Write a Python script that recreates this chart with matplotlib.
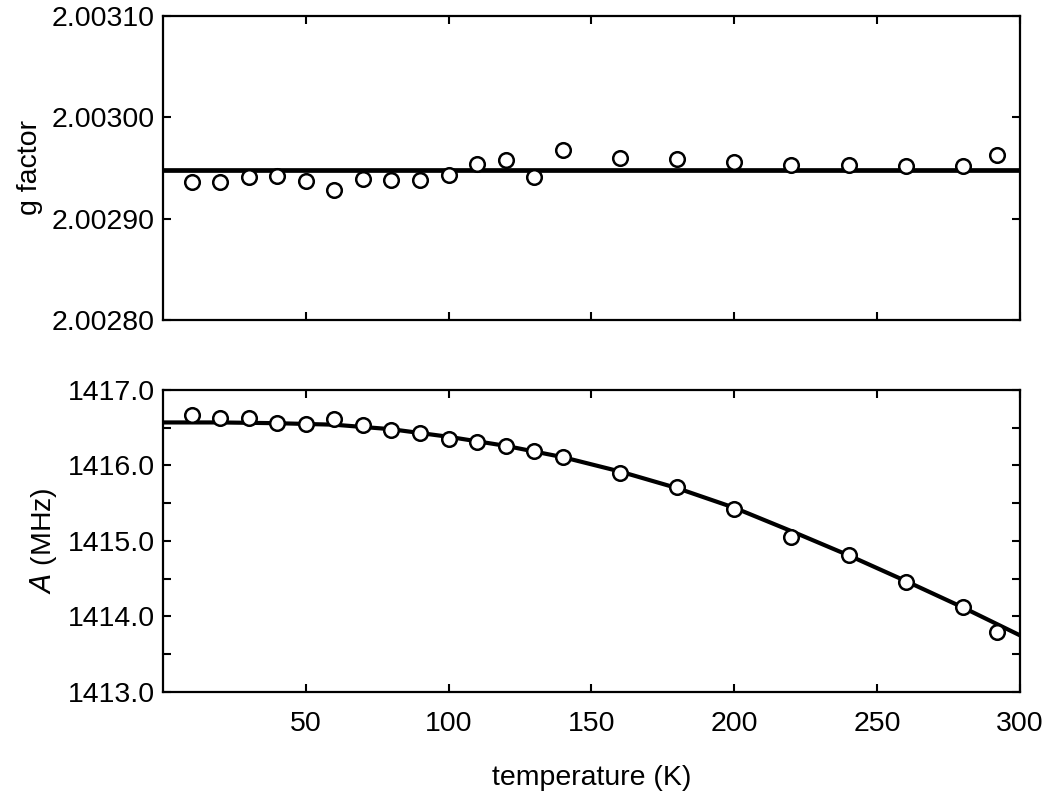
import matplotlib
matplotlib.use("Agg")
import matplotlib.pyplot as plt
from matplotlib.ticker import MultipleLocator, FormatStrFormatter

plt.rcParams['font.family'] = ['Liberation Sans', 'DejaVu Sans']

# temperature points (K)
temp = [10, 20, 30, 40, 50, 60, 70, 80, 90, 100, 110, 120, 130, 140,
        160, 180, 200, 220, 240, 260, 280, 292]

# g factor data
g_val = [2.0029362, 2.0029362, 2.0029411, 2.0029421, 2.0029372, 2.0029283,
         2.0029391, 2.0029382, 2.0029382, 2.0029431, 2.0029540, 2.0029579,
         2.0029411, 2.0029678, 2.0029599, 2.0029589, 2.0029560, 2.0029530,
         2.0029530, 2.0029520, 2.0029520, 2.0029628]
g_fit_t = [0, 300]
g_fit = [2.002948, 2.002948]

# hyperfine constant A (MHz)
a_val = [1416.67, 1416.63, 1416.63, 1416.56, 1416.55, 1416.62, 1416.54,
         1416.47, 1416.43, 1416.35, 1416.31, 1416.26, 1416.19, 1416.11,
         1415.90, 1415.72, 1415.42, 1415.05, 1414.81, 1414.46, 1414.13,
         1413.79]
a_fit_t = [0, 20, 40, 60, 80, 100, 120, 140, 160, 180, 200, 220, 240,
           260, 280, 300]
a_fit = [1416.57, 1416.57, 1416.56, 1416.54, 1416.48, 1416.38, 1416.26,
         1416.11, 1415.92, 1415.70, 1415.44, 1415.13, 1414.81, 1414.47,
         1414.12, 1413.75]

fig = plt.figure(figsize=(10.5, 7.92), dpi=100)
ax1 = fig.add_axes([0.1552, 0.5960, 0.8162, 0.3838])
ax2 = fig.add_axes([0.1552, 0.1263, 0.8162, 0.3813])

fs = 20.5
mk = dict(marker='o', ms=10.5, mfc='white', mec='black', mew=1.8, ls='none', zorder=3)

ax1.plot(g_fit_t, g_fit, color='black', lw=3.4, zorder=2)
ax1.plot(temp, g_val, **mk)
ax1.set_ylim(2.00280, 2.00310)
ax1.yaxis.set_major_locator(MultipleLocator(0.0001))
ax1.yaxis.set_major_formatter(FormatStrFormatter('%.5f'))
ax1.set_ylabel('g factor', fontsize=fs, labelpad=6)

ax2.plot(a_fit_t, a_fit, color='black', lw=3.0, zorder=2)
ax2.plot(temp, a_val, **mk)
ax2.set_ylim(1413.0, 1417.0)
ax2.yaxis.set_major_locator(MultipleLocator(1.0))
ax2.yaxis.set_minor_locator(MultipleLocator(0.5))
ax2.yaxis.set_major_formatter(FormatStrFormatter('%.1f'))
ax2.set_ylabel(r'$\it{A}$ (MHz)', fontsize=fs, labelpad=6)
ax2.set_xlabel('temperature (K)', fontsize=fs, labelpad=20)

for ax in (ax1, ax2):
    ax.set_xlim(0, 300)
    ax.set_xticks([50, 100, 150, 200, 250, 300])
    ax.tick_params(which='both', direction='in', top=True, right=True,
                   width=1.5, length=6, labelsize=fs)
    ax.tick_params(axis='y', pad=6)
    ax.tick_params(axis='x', pad=14)
    for s in ax.spines.values():
        s.set_linewidth(1.6)

ax1.tick_params(axis='x', labelbottom=False)

fig.savefig('out.png', dpi=100)
